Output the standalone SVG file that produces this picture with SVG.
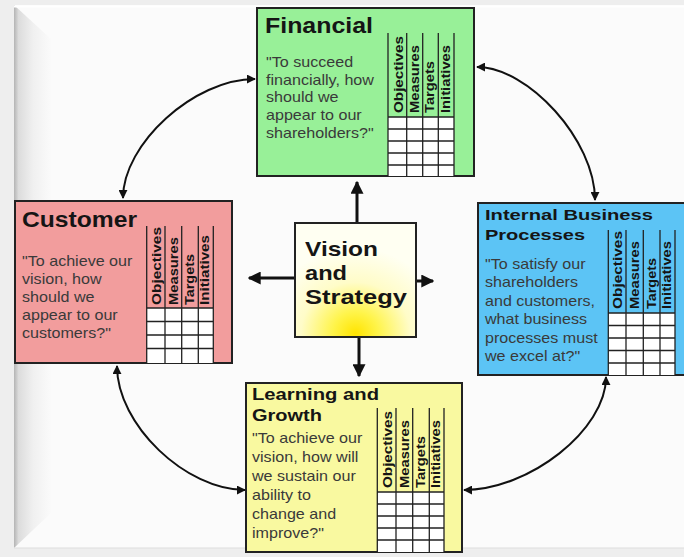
<svg xmlns="http://www.w3.org/2000/svg" width="684" height="557" viewBox="0 0 684 557">
<style>
.box{stroke:#222;stroke-width:2}
.ttl{font-family:"Liberation Sans",Arial,sans-serif;font-weight:bold;fill:#151515}
.body{font-family:"Liberation Sans",Arial,sans-serif;font-size:14px;fill:#3a3a3a}
.hd{font-family:"Liberation Sans",Arial,sans-serif;font-weight:bold;font-size:13px;fill:#151515}
.grid{fill:#ffffff}
.gl{stroke:#222;stroke-width:1.3;fill:none}
.conn{stroke:#111;fill:none}
</style>
<defs>
<linearGradient id="bevel" x1="0" y1="0" x2="1" y2="0">
<stop offset="0" stop-color="#b4b4b4"/>
<stop offset="0.12" stop-color="#dcdcdc"/>
<stop offset="0.5" stop-color="#f0f0f0"/>
<stop offset="1" stop-color="#fbfbfb"/>
</linearGradient>
<radialGradient id="glow" cx="0.5" cy="0.97" r="0.75" fx="0.5" fy="0.97">
<stop offset="0" stop-color="#ffe400"/>
<stop offset="0.25" stop-color="#fff44a"/>
<stop offset="0.6" stop-color="#fffcc8"/>
<stop offset="1" stop-color="#fffff2"/>
</radialGradient>
<marker id="big" viewBox="0 0 10 10" refX="9" refY="5" markerUnits="userSpaceOnUse" markerWidth="13" markerHeight="13" orient="auto">
<path d="M0,0 L10,5 L0,10 z" fill="#111"/>
</marker>
<marker id="small" viewBox="0 0 10 10" refX="9" refY="5" markerUnits="userSpaceOnUse" markerWidth="9" markerHeight="9" orient="auto-start-reverse">
<path d="M0,0 L10,5 L0,10 z" fill="#111"/>
</marker>
</defs>

<g id="background">
<rect x="0" y="0" width="684" height="557" fill="#eeeeee"/>
<rect x="14" y="5" width="670" height="543" fill="#fbfbfb"/>
<polygon points="14,5 52,40 52,512 14,548" fill="url(#bevel)"/>
<line x1="14" y1="6.5" x2="684" y2="6.5" stroke="#ffffff" stroke-width="2"/>
<line x1="14" y1="548" x2="684" y2="548" stroke="#dddddd" stroke-width="1"/>
</g>

<g id="connectors">
<line class="conn" x1="357" y1="223" x2="357" y2="182" stroke-width="3" marker-end="url(#big)"/>
<line class="conn" x1="295" y1="278" x2="249" y2="278" stroke-width="3" marker-end="url(#big)"/>
<line class="conn" x1="416" y1="281" x2="433" y2="281" stroke-width="3" marker-end="url(#big)"/>
<line class="conn" x1="359" y1="337" x2="359" y2="376" stroke-width="3" marker-end="url(#big)"/>
<path class="conn" stroke-width="2" d="M255,79 C194,79 123,144 123,198" marker-start="url(#small)" marker-end="url(#small)"/>
<path class="conn" stroke-width="2" d="M477,67 C528,67 595,140 595,200" marker-start="url(#small)" marker-end="url(#small)"/>
<path class="conn" stroke-width="2" d="M117,366 C117,425 186,490 245,490" marker-start="url(#small)" marker-end="url(#small)"/>
<path class="conn" stroke-width="2" d="M464,490 C529,490 606,430 606,377" marker-start="url(#small)" marker-end="url(#small)"/>
</g>

<g id="financial">
<rect class="box" x="257" y="8" width="217" height="168" fill="#98f098"/>
<text class="ttl" x="265" y="33" font-size="22" textLength="108" lengthAdjust="spacingAndGlyphs">Financial</text>
<text class="body" transform="translate(266 0) scale(1.15 1)">
<tspan x="0" y="67">"To succeed</tspan>
<tspan x="0" y="85">financially, how</tspan>
<tspan x="0" y="102.5">should we</tspan>
<tspan x="0" y="120">appear to our</tspan>
<tspan x="0" y="138">shareholders?"</tspan>
</text>
<rect class="grid" x="388" y="117" width="66" height="59"/>
<path class="gl" d="M388,33V176M406.7,33V176M422.7,33V176M438.3,33V176M454,33V176M388,117H454M388,129H454M388,141H454M388,153H454M388,165H454"/>
<text class="hd" transform="translate(402.7 113) rotate(-90)" textLength="77" lengthAdjust="spacingAndGlyphs">Objectives</text>
<text class="hd" transform="translate(418.7 113) rotate(-90)" textLength="68" lengthAdjust="spacingAndGlyphs">Measures</text>
<text class="hd" transform="translate(434.3 113) rotate(-90)" textLength="52" lengthAdjust="spacingAndGlyphs">Targets</text>
<text class="hd" transform="translate(450 113) rotate(-90)" textLength="68" lengthAdjust="spacingAndGlyphs">Initiatives</text>
</g>

<g id="customer">
<rect class="box" x="15" y="201" width="217" height="162" fill="#f29d9d"/>
<text class="ttl" x="22" y="227" font-size="22" textLength="115" lengthAdjust="spacingAndGlyphs">Customer</text>
<text class="body" transform="translate(22 0) scale(1.15 1)">
<tspan x="0" y="266">"To achieve our</tspan>
<tspan x="0" y="284">vision, how</tspan>
<tspan x="0" y="302">should we</tspan>
<tspan x="0" y="320">appear to our</tspan>
<tspan x="0" y="338">customers?"</tspan>
</text>
<rect class="grid" x="146.7" y="308" width="66.6" height="55"/>
<path class="gl" d="M146.7,226V363M165,226V363M181.7,226V363M198.3,226V363M213.3,226V363M146.7,308H213.3M146.7,321.5H213.3M146.7,335H213.3M146.7,348.5H213.3"/>
<text class="hd" transform="translate(161 305) rotate(-90)" textLength="78" lengthAdjust="spacingAndGlyphs">Objectives</text>
<text class="hd" transform="translate(178 305) rotate(-90)" textLength="68" lengthAdjust="spacingAndGlyphs">Measures</text>
<text class="hd" transform="translate(194.3 305) rotate(-90)" textLength="51" lengthAdjust="spacingAndGlyphs">Targets</text>
<text class="hd" transform="translate(209.3 305) rotate(-90)" textLength="70" lengthAdjust="spacingAndGlyphs">Initiatives</text>
</g>

<g id="internal">
<rect class="box" x="478" y="203" width="210" height="172" fill="#5cc4f5"/>
<text class="ttl" x="485" y="220" font-size="15" textLength="168" lengthAdjust="spacingAndGlyphs" fill="#14213d">Internal Business</text>
<text class="ttl" x="485" y="240" font-size="15" textLength="100" lengthAdjust="spacingAndGlyphs">Processes</text>
<text class="body" transform="translate(485 0) scale(1.15 1)">
<tspan x="0" y="269">"To satisfy our</tspan>
<tspan x="0" y="287.5">shareholders</tspan>
<tspan x="0" y="306">and customers,</tspan>
<tspan x="0" y="324.5">what business</tspan>
<tspan x="0" y="343">processes must</tspan>
<tspan x="0" y="361.5">we excel at?"</tspan>
</text>
<rect class="grid" x="608.3" y="313" width="66.7" height="62"/>
<path class="gl" d="M608.3,230V375M626,230V375M643.3,230V375M660,230V375M675,230V375M608.3,313H675M608.3,325.5H675M608.3,338H675M608.3,350.5H675M608.3,363H675"/>
<text class="hd" transform="translate(622 309) rotate(-90)" textLength="78" lengthAdjust="spacingAndGlyphs">Objectives</text>
<text class="hd" transform="translate(639.3 309) rotate(-90)" textLength="68" lengthAdjust="spacingAndGlyphs">Measures</text>
<text class="hd" transform="translate(656 309) rotate(-90)" textLength="51" lengthAdjust="spacingAndGlyphs">Targets</text>
<text class="hd" transform="translate(671 309) rotate(-90)" textLength="68" lengthAdjust="spacingAndGlyphs">Initiatives</text>
</g>

<g id="learning">
<rect class="box" x="246" y="383" width="216" height="169" fill="#f9f9a0"/>
<text class="ttl" x="252" y="400" font-size="16.5" textLength="127" lengthAdjust="spacingAndGlyphs">Learning and</text>
<text class="ttl" x="252" y="421" font-size="16.5" textLength="70" lengthAdjust="spacingAndGlyphs">Growth</text>
<text class="body" transform="translate(252 0) scale(1.15 1)">
<tspan x="0" y="443">"To achieve our</tspan>
<tspan x="0" y="462">vision, how will</tspan>
<tspan x="0" y="481">we sustain our</tspan>
<tspan x="0" y="500">ability to</tspan>
<tspan x="0" y="519">change and</tspan>
<tspan x="0" y="538">improve?"</tspan>
</text>
<rect class="grid" x="377.3" y="492" width="66.7" height="60"/>
<path class="gl" d="M377.3,408V552M396,408V552M412.7,408V552M429.3,408V552M444,408V552M377.3,492H444M377.3,504H444M377.3,516H444M377.3,528H444M377.3,540H444"/>
<text class="hd" transform="translate(392 488) rotate(-90)" textLength="77" lengthAdjust="spacingAndGlyphs">Objectives</text>
<text class="hd" transform="translate(408.7 488) rotate(-90)" textLength="68" lengthAdjust="spacingAndGlyphs">Measures</text>
<text class="hd" transform="translate(425.3 488) rotate(-90)" textLength="52" lengthAdjust="spacingAndGlyphs">Targets</text>
<text class="hd" transform="translate(440 488) rotate(-90)" textLength="68" lengthAdjust="spacingAndGlyphs">Initiatives</text>
</g>

<g id="vision">
<rect class="box" x="295" y="223" width="121" height="114" fill="url(#glow)"/>
<text class="ttl" x="305" y="256" font-size="21" textLength="73" lengthAdjust="spacingAndGlyphs">Vision</text>
<text class="ttl" x="305" y="280" font-size="21" textLength="42" lengthAdjust="spacingAndGlyphs">and</text>
<text class="ttl" x="305" y="304" font-size="21" textLength="102" lengthAdjust="spacingAndGlyphs">Strategy</text>
</g>
</svg>
